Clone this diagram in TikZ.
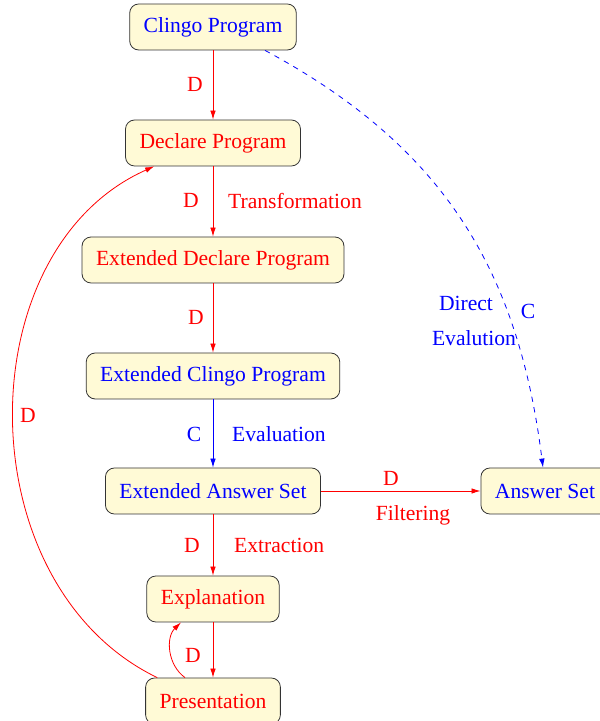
\documentclass[tikz,border=0pt]{standalone}
\usepackage{fontspec}
\setmainfont{Liberation Serif}
\usetikzlibrary{arrows.meta,calc}
\definecolor{boxfill}{RGB}{255,250,214}
\begin{document}
\begin{tikzpicture}[x=1pt,y=1pt,
  box/.style={draw=black!80, line width=0.8pt, fill=boxfill, rounded corners=9pt,
    minimum height=46pt, inner xsep=14pt, font=\fontsize{21.6}{26}\selectfont},
  lbl/.style={font=\fontsize{21.6}{26}\selectfont, inner sep=0pt},
  arr/.style={line width=0.8pt, -{Latex[length=9pt,width=5.5pt]}},
  red/.style={color=red},
  blu/.style={color=blue}]
\useasboundingbox (0,0) rectangle (600,721);

% nodes
\node[box, text=blue] (clingo) at (213,694) {Clingo Program};
\node[box, text=red] (decl) at (213,578) {Declare Program};
\node[box, text=red] (extdecl) at (213,461) {Extended Declare Program};
\node[box, text=blue] (extclingo) at (213,345) {Extended Clingo Program};
\node[box, text=blue] (extans) at (213,230) {Extended Answer Set};
\node[box, text=blue] (ans) at (545,230) {Answer Set};
\node[box, text=red] (expl) at (213,122) {Explanation};
\node[box, text=red] (pres) at (213,20) {Presentation};

% straight edges
\draw[arr, red] (clingo) -- (decl);
\draw[arr, red] (decl) -- (extdecl);
\draw[arr, red] (extdecl) -- (extclingo);
\draw[arr, blu] (extclingo) -- (extans);
\draw[arr, red] (extans) -- (ans);
\draw[arr, red] (extans) -- (expl);
\draw[arr, red] (expl) -- (pres);

% curved edges
\draw[arr, red] ($(pres.north)+(-28,0)$) to[bend left=50] ($(expl.south)+(-32,0)$);
\draw[arr, red] ($(pres.north west)+(12,0)$) .. controls (-34,136) and (-34,471) .. ($(decl.south west)+(29,0)$);
\draw[arr, blu, dash pattern=on 5.4pt off 5.4pt] ($(clingo.south)+(52,0)$) .. controls (441,576) and (518,454) .. ($(ans.north)+(-2,0)$);

% labels
\node[lbl, text=red] (l1) at (195,637) {D};
\node[lbl, text=red] (l2) at (191,521) {D};
\node[lbl, text=red, anchor=west] (l2b) at (228,520) {Transformation};
\node[lbl, text=red] (l3) at (196,404) {D};
\node[lbl, text=blue] (l4) at (194,287) {C};
\node[lbl, text=blue, anchor=west] (l4b) at (232,287) {Evaluation};
\node[lbl, text=red] (l5) at (391,243) {D};
\node[lbl, text=red] (l5b) at (413,206) {Filtering};
\node[lbl, text=red] (l6) at (192,176) {D};
\node[lbl, text=red, anchor=west] (l6b) at (234,176) {Extraction};
\node[lbl, text=red] (l7) at (193,66) {D};
\node[lbl, text=red] (l8) at (28,306) {D};
\node[lbl, text=blue] (l9) at (466,418) {Direct};
\node[lbl, text=blue] (l9b) at (474,383) {Evalution};
\node[lbl, text=blue] (l9c) at (528,410) {C};
\end{tikzpicture}
\end{document}
